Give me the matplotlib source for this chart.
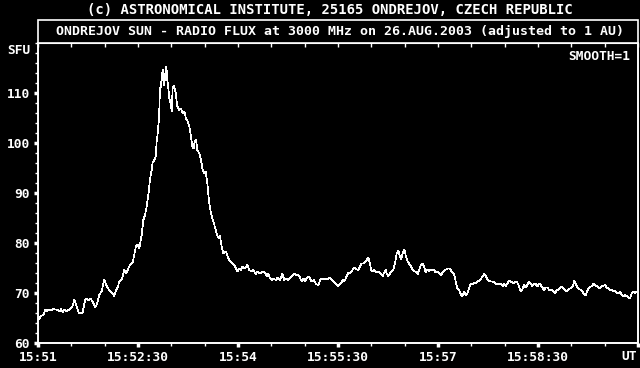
import matplotlib
matplotlib.use('Agg')
import matplotlib.pyplot as plt
from matplotlib.patches import Rectangle
from matplotlib.ticker import MultipleLocator, FixedLocator, NullFormatter

# seconds after 15:51:00 UT
secs = [0.6, 2.7, 4.8, 6.6, 8.1, 9.6, 11.7, 13.8, 15.6, 17.7, 19.8, 20.7, 22.2, 23.7, 25.2, 26.7, 28.2,
        30.6, 32.7, 34.8, 36.6, 38.7, 40.2, 42.3, 43.8, 45.6, 47.1, 49.2, 51.3, 53.1, 55.2, 57.3, 59.7,
        61.2, 62.7, 64.8, 67.2, 68.7, 70.2, 71.7, 73.2, 75.6, 77.7, 79.2, 80.7, 82.8, 85.2, 86.7, 88.2,
        89.7, 91.2, 93.3, 94.8, 96.3, 97.8, 99.3, 100.8, 102.3, 103.2, 104.7, 105.9, 106.8, 107.7, 108.9,
        109.8, 110.7, 111.3, 112.2, 113.1, 114.0, 114.6, 115.5, 116.4, 117.3, 118.2, 119.4, 120.3, 121.2,
        122.4, 123.9, 125.4, 127.2, 128.7, 130.2, 131.7, 133.2, 134.4, 136.2, 137.4, 138.9, 140.1, 141.0,
        142.2, 143.4, 145.2, 146.7, 148.2, 149.7, 150.9, 152.4, 153.9, 155.4, 156.9, 158.4, 159.9, 161.7,
        163.2, 163.8, 165.3, 166.8, 169.2, 171.3, 172.8, 174.9, 177.3, 179.4, 181.2, 182.4, 184.2, 186.3,
        188.4, 190.2, 192.3, 193.8, 195.9, 197.4, 199.8, 202.2, 204.3, 205.8, 207.3, 208.8, 210.3, 211.8,
        214.2, 215.7, 217.8, 219.9, 221.7, 223.2, 225.3, 227.4, 229.2, 230.7, 232.2, 233.7, 235.8, 237.3,
        238.8, 240.3, 241.8, 243.3, 244.8, 246.3, 248.4, 250.2, 252.3, 254.4, 256.2, 258.3, 260.4, 262.2,
        264.3, 266.4, 268.2, 270.3, 272.7, 274.2, 275.7, 277.8, 279.3, 280.8, 282.3, 283.8, 285.3, 286.8,
        288.3, 289.8, 291.3, 292.8, 294.3, 295.8, 297.3, 298.8, 299.7, 300.9, 302.4, 303.9, 305.4, 306.9,
        308.7, 310.2, 311.7, 312.9, 313.8, 315.3, 316.8, 318.3, 319.8, 321.3, 322.8, 324.3, 325.8, 326.7,
        328.2, 329.7, 331.2, 332.7, 334.2, 335.7, 337.2, 338.7, 340.2, 341.7, 342.9, 344.7, 346.2, 347.7,
        348.9, 350.4, 351.9, 353.4, 354.9, 356.4, 357.9, 359.4, 360.9, 362.7, 365.4, 367.2, 368.4, 370.2,
        371.7, 373.2, 374.4, 375.9, 377.4, 378.9, 380.4, 381.9, 383.4, 384.9, 386.4, 387.9, 389.4, 390.9,
        392.4, 393.9, 395.4, 397.2, 398.4, 399.9, 401.7, 403.2, 404.7, 406.2, 407.7, 409.2, 410.7, 412.2,
        413.7, 415.2, 416.7, 418.2, 419.7, 420.9, 422.4, 423.9, 425.4, 426.9, 428.4, 429.9, 431.4, 432.9,
        434.4, 435.9, 437.4, 438.9, 440.4, 441.9, 443.4, 444.9, 446.4, 447.9, 449.4, 450.9, 452.4, 453.9,
        455.4, 456.9, 458.4, 460.2, 462.3, 463.8, 465.3, 466.8, 468.3, 469.8, 471.3, 472.8, 474.3, 475.8,
        477.3, 478.8, 480.3, 481.8, 482.7, 483.9, 485.4, 486.9, 488.4, 489.9, 491.4, 492.9, 494.4, 495.9,
        497.4, 498.9, 499.8, 501.3, 502.8, 504.3, 505.8, 507.3, 508.8, 510.3, 511.8, 513.3, 514.8, 516.3,
        517.8, 519.3, 520.8, 522.3, 523.8, 525.3, 526.8, 528.3, 529.8, 531.3, 532.8, 534.3, 535.8, 537.3,
        538.8]

flux = [64.7, 65.4, 65.6, 66.7, 66.3, 66.7, 66.5, 66.8, 66.7, 66.6, 66.3, 66.8, 66.1, 66.7, 66.3, 66.6, 66.6,
        67.1, 68.6, 67.3, 66.1, 65.9, 66.1, 68.5, 68.9, 68.5, 68.9, 68.3, 67.1, 67.8, 69.6, 70.4, 72.7,
        71.6, 71.1, 70.3, 69.8, 69.4, 70.5, 71.1, 72.3, 72.9, 74.6, 73.9, 74.6, 75.6, 76.1, 77.8, 79.4,
        79.6, 78.9, 81.6, 84.6, 85.6, 87.3, 89.6, 92.7, 94.6, 96.1, 96.6, 97.3, 100.3, 101.9, 104.9,
        110.9, 111.3, 113.3, 114.6, 111.6, 113.9, 112.6, 115.3, 112.6, 110.9, 108.9, 107.9, 106.3, 110.9,
        111.5, 110.0, 107.3, 106.6, 106.9, 105.9, 106.3, 104.9, 104.6, 103.3, 101.6, 99.3, 98.9, 100.3,
        100.6, 98.6, 97.9, 96.6, 94.6, 93.9, 94.3, 91.9, 88.3, 86.3, 84.9, 83.9, 82.6, 81.3,
        80.9, 81.4, 79.3, 77.9, 78.3, 76.9, 76.3, 75.9, 75.3, 74.3, 74.9, 74.6, 75.3, 74.9,
        75.6, 74.6, 74.3, 74.6, 73.8, 74.3, 73.9, 74.3, 74.1, 73.4, 73.8, 72.9, 72.6, 72.8,
        72.6, 73.1, 72.6, 73.8, 72.6, 72.9, 72.6, 73.1, 73.6, 73.9, 73.5, 73.6, 73.1, 72.3,
        72.9, 72.3, 72.9, 73.3, 72.9, 72.3, 72.6, 71.8, 71.6, 72.9, 72.7, 72.9, 72.7, 73.1,
        72.6, 72.1, 71.8, 71.4, 71.9, 72.6, 72.3, 73.4, 74.1, 73.9, 74.3, 74.9, 75.1, 74.7,
        74.6, 75.3, 75.9, 75.9, 76.3, 76.6, 77.1, 75.9, 74.7, 74.3, 74.7, 74.3, 74.1, 74.3,
        73.8, 73.4, 74.1, 74.7, 73.9, 73.4, 73.9, 74.3, 74.7, 75.9, 77.9, 78.5, 77.3, 76.7,
        77.9, 78.7, 77.3, 76.3, 75.8, 75.3, 74.7, 74.3, 74.3, 73.8, 74.6, 75.6, 75.8, 75.1,
        74.1, 74.7, 74.3, 74.7, 74.5, 74.6, 74.1, 74.3, 73.9, 73.6, 74.5, 74.7, 74.9, 74.9,
        74.5, 74.1, 73.9, 72.3, 70.9, 70.6, 69.8, 69.3, 70.3, 69.6, 69.9, 70.9, 71.9, 71.7,
        72.1, 71.9, 72.3, 72.5, 72.7, 73.3, 73.8, 73.3, 72.6, 72.4, 72.3, 72.3, 72.1, 71.8,
        71.9, 71.7, 71.9, 71.4, 71.9, 71.4, 71.9, 72.5, 72.3, 72.1, 71.9, 72.3, 72.1, 71.3,
        70.3, 70.7, 71.6, 71.1, 71.6, 72.3, 71.9, 71.4, 71.9, 71.8, 71.3, 71.9, 71.6, 71.1,
        70.5, 71.1, 71.1, 70.6, 70.7, 70.3, 69.9, 70.5, 70.7, 71.1, 71.3, 70.9, 70.6, 70.3,
        70.7, 70.9, 71.1, 71.6, 72.5, 71.9, 71.1, 70.7, 70.7, 70.3, 69.8, 69.6, 70.5, 71.1,
        71.3, 71.4, 71.9, 71.6, 71.4, 71.1, 70.9, 71.4, 71.4, 71.6, 71.1, 70.9, 70.5, 70.6,
        70.3, 70.5, 70.1, 69.9, 70.3, 69.6, 69.3, 69.6, 69.4, 69.1, 68.9, 69.9, 70.3, 69.9,
        70.3]

tick_secs = [0, 90, 180, 270, 360, 450]
tick_labels = ['15:51', '15:52:30', '15:54', '15:55:30', '15:57', '15:58:30']
y_ticks = [60, 70, 80, 90, 100, 110]

plt.rcParams['font.family'] = ['DejaVu Sans Mono']
plt.rcParams['font.weight'] = 'bold'

W, H = 640, 368
fig = plt.figure(figsize=(W / 100, H / 100), dpi=100, facecolor='black')

# plot area: x 38..638 px, y 43..343 px
ax = fig.add_axes([38 / W, (H - 343) / H, 600 / W, 300 / H], facecolor='black')
ax.plot(secs, flux, color='white', lw=0.5, antialiased=False)
ax.set_xlim(0, 540)
ax.set_ylim(60, 120)

for s in ax.spines.values():
    s.set_color('white')
    s.set_linewidth(1.2)

ax.xaxis.set_major_locator(FixedLocator(tick_secs + [540]))
ax.set_xticklabels(tick_labels + [''])
ax.xaxis.set_minor_locator(MultipleLocator(30))
ax.yaxis.set_major_locator(FixedLocator(y_ticks))
ax.set_yticklabels([str(v) for v in y_ticks])
ax.yaxis.set_minor_locator(MultipleLocator(2))

ax.tick_params(which='major', direction='out', length=3, width=2.5, color='white',
               labelcolor='white', labelsize=9.3, pad=3)
ax.tick_params(which='minor', direction='out', length=2, width=1, color='white')

top = ax.secondary_xaxis('top')
top.xaxis.set_major_locator(MultipleLocator(30))
top.xaxis.set_major_formatter(NullFormatter())
top.tick_params(direction='in', length=3, width=1, color='white')
top.spines['top'].set_color('white')

# outer frame that holds the inner title
fig.patches.append(Rectangle((38 / W, (H - 343) / H), 600 / W, 323 / H, transform=fig.transFigure,
                             fill=False, edgecolor='white', lw=1.2))

fig.text(330 / W, 1 - 10 / H, '(c) ASTRONOMICAL INSTITUTE, 25165 ONDREJOV, CZECH REPUBLIC',
         color='white', fontsize=10, ha='center', va='center')
fig.text(340 / W, 1 - 31 / H,
         'ONDREJOV SUN - RADIO FLUX at 3000 MHz on 26.AUG.2003 (adjusted to 1 AU)',
         color='white', fontsize=9.5, ha='center', va='center')
fig.text(31 / W, 1 - 50 / H, 'SFU', color='white', fontsize=9.3, ha='right', va='center')
fig.text(630 / W, 1 - 57 / H, 'SMOOTH=1', color='white', fontsize=9.3, ha='right', va='center')
fig.text(637 / W, 1 - 356 / H, 'UT', color='white', fontsize=9.3, ha='right', va='center')

fig.savefig('out.png', dpi=100, facecolor='black')
